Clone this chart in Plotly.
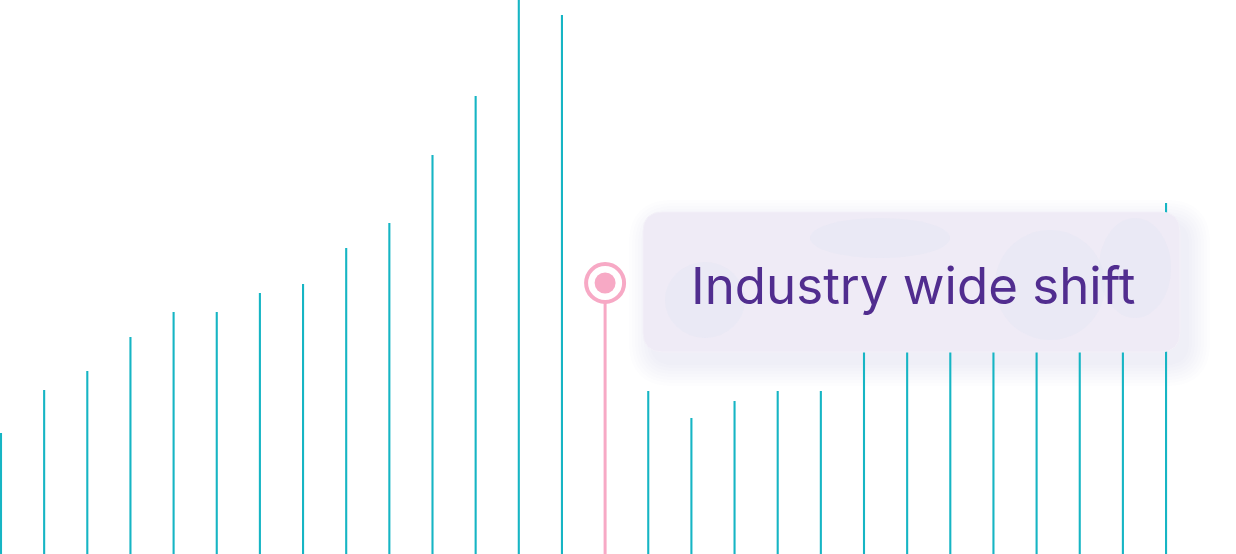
import plotly.graph_objects as go

W, H = 1236, 554

# bar heights (pixels above the bottom edge), one per column
heights = [121, 164, 183, 217, 242, 242, 261, 270, 306, 331, 399, 458, 560, 539,
           0, 163, 136, 153, 163, 163, 230, 245, 260, 275, 290, 305, 320, 351]
teal_idx = [i for i in range(len(heights)) if i != 14]
teal_h = [heights[i] for i in teal_idx]

event_idx = 14
event_h = 271
label = "Industry wide shift"

step = 43.15  # pixels per column


def px(x):
    return x / W


def py(y):
    return 1 - y / H


def rounded(x0, y0, x1, y1, r):
    rx, ry = r / W, r / H
    a, b, c, d = px(x0), py(y0), px(x1), py(y1)
    return (f"M {a + rx},{b} L {c - rx},{b} Q {c},{b} {c},{b - ry} "
            f"L {c},{d + ry} Q {c},{d} {c - rx},{d} L {a + rx},{d} "
            f"Q {a},{d} {a},{d + ry} L {a},{b - ry} Q {a},{b} {a + rx},{b} Z")


fig = go.Figure()

fig.add_trace(go.Bar(x=teal_idx, y=teal_h, width=2.1 / step,
                     marker=dict(color="#16b5c4", line_width=0)))
fig.add_trace(go.Bar(x=[event_idx], y=[event_h], width=3 / step,
                     marker=dict(color="#f7a9c5", line_width=0)))
fig.add_trace(go.Scatter(x=[event_idx], y=[event_h], mode="markers",
                         marker=dict(size=38, color="white",
                                     line=dict(color="#f7a9c5", width=4))))
fig.add_trace(go.Scatter(x=[event_idx], y=[event_h], mode="markers",
                         marker=dict(size=21, color="#f7a9c5", line_width=0)))

bx0, by0, bx1, by1 = 643, 212, 1180, 352
shapes = []
# soft shadow
for k in range(1, 9):
    e = 3 * k
    shapes.append(dict(type="path", xref="paper", yref="paper",
                       path=rounded(bx0 - e + 10, by0 - e + 12, bx1 + e + 6, by1 + e + 10, 20 + e),
                       fillcolor="rgba(120,120,140,0.012)", line_width=0, layer="below"))
shapes.append(dict(type="path", xref="paper", yref="paper",
                   path=rounded(bx0, by0, bx1, by1, 20),
                   fillcolor="#efebf6", line=dict(color="#f3f0f8", width=1), layer="above"))
# faint bluish swirls inside the box
for cx, cy, rw, rh in [(880, 238, 70, 20), (1050, 285, 55, 55), (1135, 268, 36, 50),
                       (705, 300, 40, 38)]:
    shapes.append(dict(type="circle", xref="paper", yref="paper",
                       x0=px(cx - rw), x1=px(cx + rw), y0=py(cy - rh), y1=py(cy + rh),
                       fillcolor="rgba(218,228,242,0.25)", line_width=0, layer="above"))

fig.update_layout(
    width=W, height=H,
    margin=dict(l=0, r=0, t=0, b=0),
    paper_bgcolor="white", plot_bgcolor="white",
    showlegend=False, barmode="overlay",
    shapes=shapes,
    annotations=[dict(text=label, xref="paper", yref="paper",
                      x=px(913), y=py(285), xanchor="center", yanchor="middle",
                      showarrow=False,
                      font=dict(family="Inter", size=51, color="#512d8f"))],
    xaxis=dict(range=[-1 / step, (W - 1) / step], visible=False, fixedrange=True),
    yaxis=dict(range=[0, H], visible=False, fixedrange=True),
)

fig.write_html("out.html", config={"displayModeBar": False},
               post_script="document.body.style.margin='0';document.body.style.overflow='hidden';")
